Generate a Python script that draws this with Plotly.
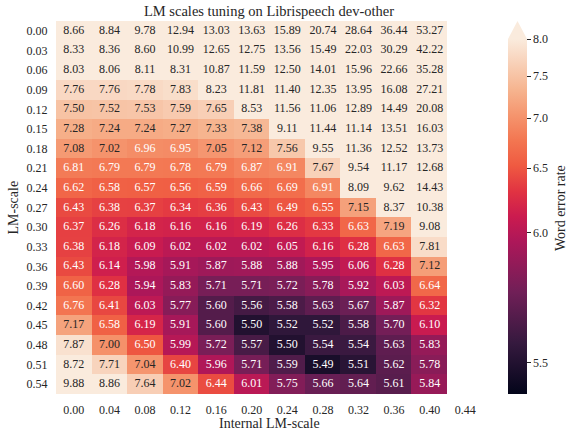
import numpy as np
import plotly.graph_objects as go

# ---------------- data ----------------
lm_scale = ["0.00", "0.03", "0.06", "0.09", "0.12", "0.15", "0.18", "0.21", "0.24", "0.27",
            "0.30", "0.33", "0.36", "0.39", "0.42", "0.45", "0.48", "0.51", "0.54"]
internal_lm_scale = ["0.00", "0.04", "0.08", "0.12", "0.16", "0.20", "0.24", "0.28",
                     "0.32", "0.36", "0.40", "0.44"]

wer = [
    [8.66, 8.84, 9.78, 12.94, 13.03, 13.63, 15.89, 20.74, 28.64, 36.44, 53.27],
    [8.33, 8.36, 8.60, 10.99, 12.65, 12.75, 13.56, 15.49, 22.03, 30.29, 42.22],
    [8.03, 8.06, 8.11, 8.31, 10.87, 11.59, 12.50, 14.01, 15.96, 22.66, 35.28],
    [7.76, 7.76, 7.78, 7.83, 8.23, 11.81, 11.40, 12.35, 13.95, 16.08, 27.21],
    [7.50, 7.52, 7.53, 7.59, 7.65, 8.53, 11.56, 11.06, 12.89, 14.49, 20.08],
    [7.28, 7.24, 7.24, 7.27, 7.33, 7.38, 9.11, 11.44, 11.14, 13.51, 16.03],
    [7.08, 7.02, 6.96, 6.95, 7.05, 7.12, 7.56, 9.55, 11.36, 12.52, 13.73],
    [6.81, 6.79, 6.79, 6.78, 6.79, 6.87, 6.91, 7.67, 9.54, 11.17, 12.68],
    [6.62, 6.58, 6.57, 6.56, 6.59, 6.66, 6.69, 6.91, 8.09, 9.62, 14.43],
    [6.43, 6.38, 6.37, 6.34, 6.36, 6.43, 6.49, 6.55, 7.15, 8.37, 10.38],
    [6.37, 6.26, 6.18, 6.16, 6.16, 6.19, 6.26, 6.33, 6.63, 7.19, 9.08],
    [6.38, 6.18, 6.09, 6.02, 6.02, 6.02, 6.05, 6.16, 6.28, 6.63, 7.81],
    [6.43, 6.14, 5.98, 5.91, 5.87, 5.88, 5.88, 5.95, 6.06, 6.28, 7.12],
    [6.60, 6.28, 5.94, 5.83, 5.71, 5.71, 5.72, 5.78, 5.92, 6.03, 6.64],
    [6.76, 6.41, 6.03, 5.77, 5.60, 5.56, 5.58, 5.63, 5.67, 5.87, 6.32],
    [7.17, 6.58, 6.19, 5.91, 5.60, 5.50, 5.52, 5.52, 5.58, 5.70, 6.10],
    [7.87, 7.00, 6.50, 5.99, 5.72, 5.57, 5.50, 5.54, 5.54, 5.63, 5.83],
    [8.72, 7.71, 7.04, 6.40, 5.96, 5.71, 5.59, 5.49, 5.51, 5.62, 5.78],
    [9.88, 8.86, 7.64, 7.02, 6.44, 6.01, 5.75, 5.66, 5.64, 5.61, 5.84],
]
cbar_ticks = [5.5, 6.0, 6.5, 7.0, 7.5, 8.0]

# ---------------- style ----------------
VMIN, VMAX, GAMMA = 5.48, 8.0, 0.5
FONT = "Times New Roman"
TXT = "#262626"

rocket = [
    (0.000, "#03051a"), (0.143, "#35193e"), (0.286, "#701f57"), (0.429, "#ad1759"),
    (0.500, "#cb1b4f"), (0.571, "#e13342"), (0.643, "#ef5a41"), (0.714, "#f37651"),
    (0.786, "#f5956e"), (0.857, "#f6b48f"), (0.930, "#f8d0b7"), (1.000, "#faebdd"),
]


def norm(v):
    v = np.clip(np.asarray(v, dtype=float), VMIN, VMAX)
    return ((v - VMIN) / (VMAX - VMIN)) ** GAMMA


def hex2rgb(h):
    return np.array([int(h[i:i + 2], 16) for i in (1, 3, 5)]) / 255.0


def color_at(t):
    pos = [p for p, _ in rocket]
    cols = np.array([hex2rgb(c) for _, c in rocket])
    return np.array([np.interp(t, pos, cols[:, k]) for k in range(3)])


def rel_lum(rgb):
    c = np.where(rgb <= 0.03928, rgb / 12.92, ((rgb + 0.055) / 1.055) ** 2.4)
    return 0.2126 * c[0] + 0.7152 * c[1] + 0.0722 * c[2]


W = np.array(wer)
Z = norm(W)
nrows, ncols = W.shape

xs, ys, texts, tcols = [], [], [], []
for i in range(nrows):
    for j in range(ncols):
        xs.append(j)
        ys.append(i)
        texts.append(f"{W[i, j]:.2f}")
        tcols.append(TXT if rel_lum(color_at(Z[i, j])) > 0.40 else "white")

PL, PR, PT, PB = 56, 483, 20.5, 394.3
PW, PH = PR - PL, PB - PT

fig = go.Figure()
fig.add_trace(go.Heatmap(
    z=Z, x=list(range(ncols)), y=list(range(nrows)),
    zmin=0, zmax=1, colorscale=[[p, c] for p, c in rocket],
    hoverinfo="skip",
    colorbar=dict(
        x=(508 - PL) / PW, xanchor="left", xpad=0, y=0, yanchor="bottom", ypad=0,
        len=0.952, lenmode="fraction", thickness=19, outlinewidth=0,
        tickvals=list(norm(cbar_ticks)), ticktext=[f"{t:.1f}" for t in cbar_ticks],
        ticks="outside", ticklen=4, tickwidth=1, tickcolor=TXT,
        tickfont=dict(family=FONT, size=12, color=TXT),
    ),
))
fig.add_trace(go.Scatter(
    x=xs, y=ys, mode="text", text=texts,
    textfont=dict(family=FONT, size=12, color=tcols),
    hoverinfo="skip", showlegend=False, cliponaxis=False,
))

# extend arrow on top of the colorbar
x0c, x1c = (508 - PL) / PW, (527 - PL) / PW
fig.add_shape(type="path", xref="paper", yref="paper",
              path=f"M {x0c} 0.952 L {x1c} 0.952 L {(x0c + x1c) / 2} 1.0 Z",
              fillcolor=rocket[-1][1], line=dict(width=0))

fig.update_layout(
    template="none",
    width=567, height=434,
    margin=dict(l=PL, r=567 - PR, t=PT, b=434 - PB, pad=0, autoexpand=False),
    paper_bgcolor="white", plot_bgcolor="white",
    font=dict(family=FONT, size=12, color=TXT),
    title=dict(text="LM scales tuning on Librispeech dev-other", x=269 / 567,
               xanchor="center", y=1 - 11 / 434, yanchor="middle", yref="container",
               font=dict(family=FONT, size=14.5, color=TXT)),
    xaxis=dict(range=[-0.5, len(internal_lm_scale) - 0.5], tickvals=list(range(len(internal_lm_scale))),
               ticktext=internal_lm_scale, showgrid=False, zeroline=False, showline=False,
               automargin=False, ticks="outside", ticklen=5, tickcolor="rgba(0,0,0,0)",
               tickfont=dict(family=FONT, size=12, color=TXT)),
    yaxis=dict(range=[nrows - 0.5, -0.5], tickvals=list(range(nrows)), ticktext=lm_scale,
               showgrid=False, zeroline=False, showline=False, automargin=False,
               ticks="outside", ticklen=5, tickcolor="rgba(0,0,0,0)",
               tickfont=dict(family=FONT, size=12, color=TXT)),
    showlegend=False,
    annotations=[
        dict(text="Internal LM-scale", xref="paper", yref="paper", x=0.5, y=(PB - 424) / PH,
             xanchor="center", yanchor="middle", showarrow=False,
             font=dict(family=FONT, size=14, color=TXT)),
        dict(text="LM-scale", xref="paper", yref="paper", x=(13 - PL) / PW, y=0.5,
             xanchor="center", yanchor="middle", textangle=-90, showarrow=False,
             font=dict(family=FONT, size=14, color=TXT)),
        dict(text="Word error rate", xref="paper", yref="paper", x=(560 - PL) / PW,
             y=(PB - 208) / PH, xanchor="center", yanchor="middle", textangle=-90,
             showarrow=False, font=dict(family=FONT, size=14, color=TXT)),
    ],
)

fig.write_html("out.html", config={"displayModeBar": False},
               post_script="document.body.style.margin='0px';")
